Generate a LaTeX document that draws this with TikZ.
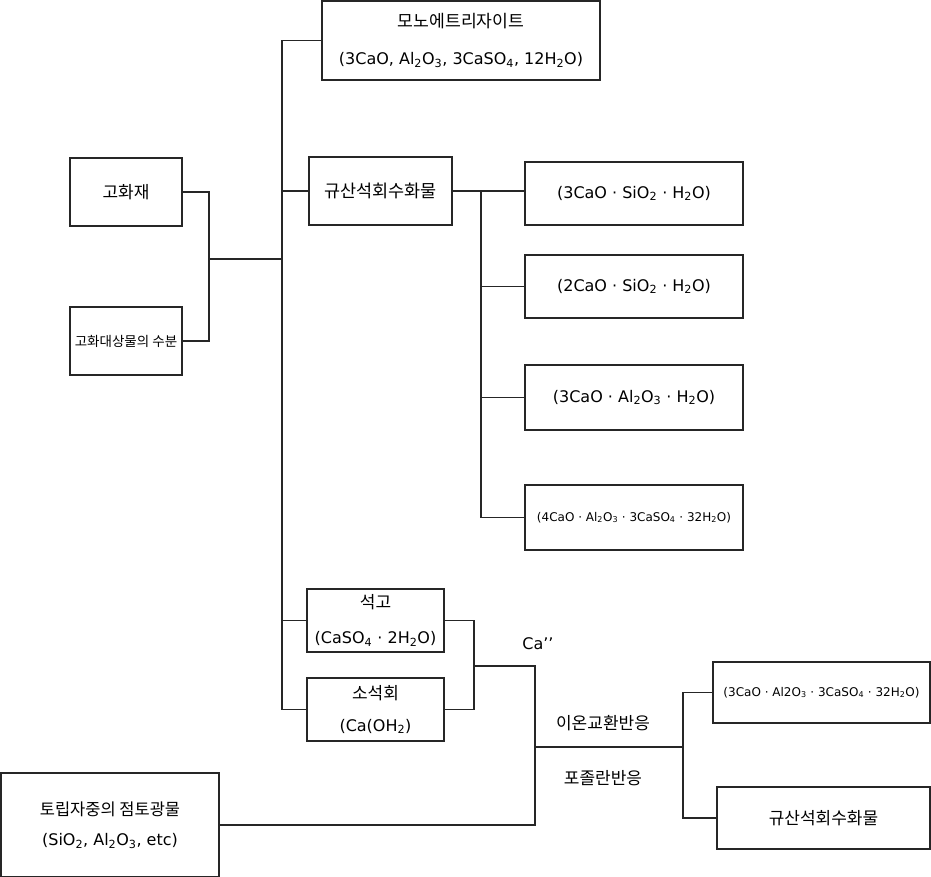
\documentclass[tikz,border=0pt]{standalone}
\usepackage{fontspec}
\setmainfont{DejaVu Sans}
\newfontfamily\kr{Noto Sans CJK KR}
\newcommand{\chsub}[1]{\textsubscript{#1}}
\newcommand{\cdt}{\ ·\ }
\usetikzlibrary{calc}
\tikzset{
    box/.style={draw=black!85, line width=1.3pt, inner sep=0pt, align=center},
    wire/.style={draw=black!85, line width=1.2pt},
    label text/.style={inner sep=0pt, font=\kr\fontsize{17}{19}\selectfont},
}

\begin{document}
\begin{tikzpicture}[x=1pt, y=-1pt]
\useasboundingbox (0,0) rectangle (931,877);

% Cajas de la izquierda
\node[box, minimum width=112pt, minimum height=68pt, font=\kr\fontsize{17}{19}\selectfont]
    (gohwa) at (126,192) {고화재};
\node[box, minimum width=112pt, minimum height=68pt, font=\kr\fontsize{13.5}{15}\selectfont]
    (subun) at (126,341) {고화대상물의 수분};
\node[box, minimum width=218pt, minimum height=104pt, font=\fontsize{16}{30}\selectfont]
    (tolip) at (110,825) {{\kr\fontsize{16.5}{30}\selectfont 토립자중의 점토광물}\\(SiO\chsub{2}, Al\chsub{2}O\chsub{3}, etc)};

% Cajas centrales
\node[box, minimum width=278pt, minimum height=79pt, font=\fontsize{16}{37}\selectfont]
    (mono) at (461,40.5) {{\kr\fontsize{17.2}{37}\selectfont 모노에트리자이트}\\(3CaO, Al\chsub{2}O\chsub{3}, 3CaSO\chsub{4}, 12H\chsub{2}O)};
\node[box, minimum width=143pt, minimum height=68pt, font=\kr\fontsize{17.5}{19}\selectfont]
    (gyusan) at (380.5,191) {규산석회수화물};
\node[box, minimum width=137pt, minimum height=63pt, font=\fontsize{16}{35}\selectfont]
    (seokgo) at (375.5,620.5) {{\kr\fontsize{17}{35}\selectfont 석고}\\(CaSO\chsub{4}\cdt 2H\chsub{2}O)};
\node[box, minimum width=137pt, minimum height=63pt, font=\fontsize{16}{32}\selectfont]
    (soseok) at (375.5,709.5) {{\kr\fontsize{17}{32}\selectfont 소석회}\\(Ca(OH\chsub{2})};

% Cajas de la derecha
\node[box, minimum width=218pt, minimum height=63pt, font=\fontsize{16}{19}\selectfont]
    (hyd1) at (634,193.5) {(3CaO\cdt SiO\chsub{2}\cdt H\chsub{2}O)};
\node[box, minimum width=218pt, minimum height=63pt, font=\fontsize{16}{19}\selectfont]
    (hyd2) at (634,286.5) {(2CaO\cdt SiO\chsub{2}\cdt H\chsub{2}O)};
\node[box, minimum width=218pt, minimum height=65pt, font=\fontsize{16}{19}\selectfont]
    (hyd3) at (634,397.5) {(3CaO\cdt Al\chsub{2}O\chsub{3}\cdt H\chsub{2}O)};
\node[box, minimum width=218pt, minimum height=65pt, font=\fontsize{12}{15}\selectfont]
    (hyd4) at (634,517.5) {(4CaO\cdt Al\chsub{2}O\chsub{3}\cdt 3CaSO\chsub{4}\cdt 32H\chsub{2}O)};
\node[box, minimum width=217pt, minimum height=61pt, font=\fontsize{12}{15}\selectfont]
    (ettr) at (821.5,692.5) {(3CaO\cdt Al2O\chsub{3}\cdt 3CaSO\chsub{4}\cdt 32H\chsub{2}O)};
\node[box, minimum width=213pt, minimum height=62pt, font=\kr\fontsize{17}{19}\selectfont]
    (gyusanB) at (823.5,818) {규산석회수화물};

% Textos sueltos
\node[inner sep=0pt, font=\fontsize{16}{19}\selectfont] (caion) at (538,644) {Ca'{}'};
\node[label text] (ion) at (603,723) {이온교환반응};
\node[label text] (pozz) at (603,778) {포졸란반응};

% Puntos de union
\coordinate (join) at (209,259);
\coordinate (trunk) at (282,259);
\coordinate (bus) at (481,0);
\coordinate (ca) at (474,666);
\coordinate (drop) at (535,666);
\coordinate (mix) at (535,747);
\coordinate (fork) at (683,747);

% Lineas
\draw[wire] (gohwa.east) -| (join) |- (subun.east);
\draw[wire] (join) -- (trunk);
\draw[wire] (mono.west) -| (trunk) |- (soseok.west);
\draw[wire] (gyusan.west) -- (gyusan.west -| trunk);
\draw[wire] (seokgo.west) -- (seokgo.west -| trunk);

\draw[wire] (gyusan.east) -- (gyusan.east -| hyd1.west);
\draw[wire] (gyusan.east -| bus) |- (hyd4.west);
\draw[wire] (hyd2.west) -- (hyd2.west -| bus);
\draw[wire] (hyd3.west) -- (hyd3.west -| bus);

\draw[wire] (seokgo.east) -| (ca) |- (soseok.east);
\draw[wire] (ca) -- (drop) |- (tolip.east);
\draw[wire] (mix) -- (fork);
\draw[wire] (ettr.west) -| (fork) |- (gyusanB.west);
\end{tikzpicture}
\end{document}
